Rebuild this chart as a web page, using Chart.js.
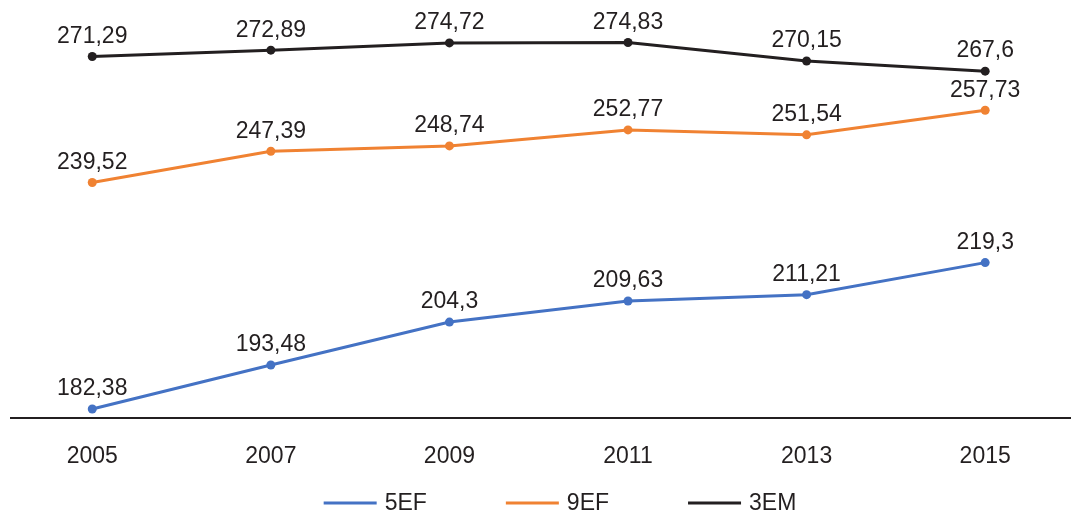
<!DOCTYPE html>
<html>
<head>
<meta charset="utf-8">
<script src="https://cdn.jsdelivr.net/npm/chart.js@4.4.1/dist/chart.umd.min.js"></script>
<style>
  html, body { margin: 0; padding: 0; background: #fff; }
  #wrap { width: 1078px; height: 516px; position: relative; }
</style>
</head>
<body>
<div id="wrap"><canvas id="chart"></canvas></div>
<script>
const years = [2005, 2007, 2009, 2011, 2013, 2015];
const ef5 = [182.38, 193.48, 204.3, 209.63, 211.21, 219.3];
const ef9 = [239.52, 247.39, 248.74, 252.77, 251.54, 257.73];
const em3 = [271.29, 272.89, 274.72, 274.83, 270.15, 267.6];

const textColor = '#231f20';
const fontFamily = '"Liberation Sans", Arial, sans-serif';

function points(vals) {
    return years.map((yr, i) => ({ x: yr, y: vals[i] }));
}

function makeSet(label, vals, color) {
    return {
        label: label,
        data: points(vals),
        borderColor: color,
        backgroundColor: color,
        borderWidth: 3,
        pointRadius: 4.5,
        pointBorderWidth: 0,
        pointBackgroundColor: color,
        tension: 0
    };
}

// value labels above each point, decimal comma
const valueLabels = {
    id: 'valueLabels',
    afterDatasetsDraw(chart) {
        const ctx = chart.ctx;
        ctx.save();
        ctx.font = '23px ' + fontFamily;
        ctx.fillStyle = textColor;
        ctx.textAlign = 'center';
        ctx.textBaseline = 'middle';
        chart.data.datasets.forEach((ds, i) => {
            chart.getDatasetMeta(i).data.forEach((pt, j) => {
                const txt = String(ds.data[j].y).replace('.', ',');
                ctx.fillText(txt, pt.x, pt.y - 20);
            });
        });
        ctx.restore();
    }
};

// bottom legend drawn by hand: short line + series name
const lineLegend = {
    id: 'lineLegend',
    afterDraw(chart) {
        const ctx = chart.ctx;
        const lineLen = 53, gapText = 8, gapItem = 79;
        const y = 503;
        ctx.save();
        ctx.font = '23px ' + fontFamily;
        ctx.textBaseline = 'middle';
        ctx.textAlign = 'left';
        const items = chart.data.datasets.map(ds => ({
            text: ds.label,
            color: ds.borderColor,
            w: ctx.measureText(ds.label).width
        }));
        let total = 0;
        items.forEach((it, i) => {
            total += lineLen + gapText + it.w + (i > 0 ? gapItem : 0);
        });
        let x = 560 - total / 2;
        items.forEach(it => {
            ctx.fillStyle = it.color;
            ctx.fillRect(x, y - 1.5, lineLen, 3);
            ctx.fillStyle = textColor;
            ctx.fillText(it.text, x + lineLen + gapText, y + 1);
            x += lineLen + gapText + it.w + gapItem;
        });
        ctx.restore();
    }
};

new Chart(document.getElementById('chart'), {
    type: 'line',
    data: {
        datasets: [
            makeSet('5EF', ef5, '#4472c4'),
            makeSet('9EF', ef9, '#f08232'),
            makeSet('3EM', em3, '#231f20')
        ]
    },
    options: {
        responsive: true,
        maintainAspectRatio: false,
        animation: false,
        layout: { padding: { top: 22, left: 11, right: 8, bottom: 22 } },
        plugins: {
            legend: { display: false },
            tooltip: { enabled: false }
        },
        scales: {
            x: {
                type: 'linear',
                min: 2004.09,
                max: 2015.95,
                afterBuildTicks(scale) {
                    scale.ticks = years.map(v => ({ value: v }));
                },
                grid: { display: false, drawTicks: false },
                border: { display: true, color: '#231f20', width: 2 },
                ticks: {
                    color: textColor,
                    font: { family: fontFamily, size: 23 },
                    padding: 24,
                    maxRotation: 0,
                    callback: v => String(v)
                }
            },
            y: {
                display: false,
                min: 180,
                max: 280
            }
        }
    },
    plugins: [valueLabels, lineLegend]
});
</script>
</body>
</html>
